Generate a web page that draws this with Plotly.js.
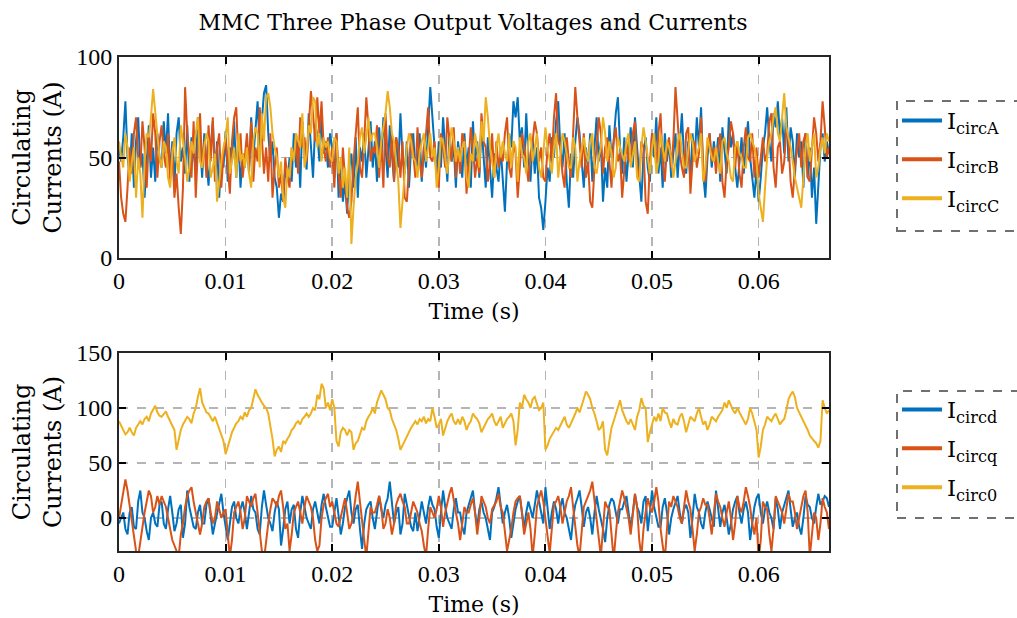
<!DOCTYPE html>
<html>
<head>
<meta charset="utf-8">
<script src="https://cdn.plot.ly/plotly-3.0.1.min.js"></script>
<style>html,body{margin:0;padding:0;background:#fff;}#chart{width:1017px;height:618px;}</style>
</head>
<body>
<div id="chart"></div>
<script>
// sample period of the recorded signals (s)
const sampleStep = 0.0002;

// Top panel: phase circulating currents (A)
const iCircA = [
55,48,60,78,50,42,62,35,58,70,45,52,30,48,66,40,55,38,62,50,
45,68,52,72,40,58,35,62,70,48,55,42,66,38,60,52,44,70,58,40,
62,48,36,55,68,42,58,30,50,45,63,38,55,48,68,40,60,35,52,45,
58,42,70,50,62,78,55,68,82,86,62,48,58,40,35,20,32,28,45,38,
50,38,62,45,58,35,68,50,44,72,55,40,66,62,48,70,52,58,45,62,
55,40,62,30,48,28,38,22,45,52,35,60,30,55,48,62,40,52,68,45,
58,38,65,48,70,55,40,66,52,38,60,45,72,50,42,58,35,55,62,42,
48,62,38,55,45,68,85,70,52,40,58,45,70,52,38,62,48,56,35,58,
50,40,62,45,55,35,68,48,58,40,66,50,35,60,42,30,52,45,38,55,
40,23,48,62,55,78,70,80,58,65,45,72,50,38,60,42,55,30,25,14,
28,45,38,60,50,68,78,55,45,62,38,25,52,40,58,70,62,48,35,55,
45,62,38,55,70,48,58,28,45,35,66,50,58,72,80,55,42,60,38,52,
65,45,70,55,40,28,52,60,45,38,62,50,70,42,55,35,62,48,58,40,
52,62,40,55,72,50,42,58,38,62,48,70,55,75,42,30,50,62,45,58,
48,60,38,65,52,42,70,55,62,45,35,50,60,42,55,68,50,40,30,45,
28,40,55,62,75,58,48,72,65,78,60,70,52,75,48,65,58,40,62,50,
58,35,62,40,55,30,45,17,38,55,62,48,58,52];
const iCircB = [
48,30,22,18,35,55,42,62,70,50,45,68,55,35,60,48,72,62,40,58,
66,52,45,62,38,55,30,42,25,12,35,85,62,50,40,68,30,55,72,45,
58,40,66,48,70,38,55,62,35,52,60,45,32,58,70,75,48,62,40,50,
62,45,68,38,55,48,75,60,42,55,38,62,30,45,55,35,42,28,50,40,
35,55,48,62,42,70,55,60,48,65,83,72,58,80,62,78,55,48,60,45,
55,35,62,42,30,55,38,25,20,28,48,62,75,45,40,58,80,65,48,55,
52,66,40,58,35,72,50,45,62,38,60,55,40,58,30,28,45,62,52,40,
65,48,40,55,62,75,50,48,58,42,35,62,55,45,70,58,48,65,40,55,
42,62,58,32,48,65,55,40,50,42,72,58,55,38,48,62,40,58,45,52,
48,62,70,45,40,58,52,30,45,62,55,45,38,52,58,68,62,48,55,40,
38,55,62,48,70,82,58,55,42,35,60,48,40,62,85,70,55,45,62,40,
48,28,25,45,55,70,62,42,55,60,48,35,58,65,48,52,30,42,58,48,
50,62,68,45,40,58,55,28,22,48,62,58,45,62,72,48,38,55,60,45,
58,85,70,52,45,40,62,65,32,48,58,45,52,70,45,38,55,62,48,55,
42,55,62,38,30,48,55,68,62,45,58,42,35,55,65,50,48,62,40,55,
40,52,60,48,52,68,72,45,35,55,58,42,48,65,58,38,30,45,55,62,
45,58,62,40,38,55,70,62,48,58,78,65,50,55];
const iCircC = [
58,50,45,62,55,38,48,55,30,50,42,20,48,62,60,70,84,72,62,50,
45,58,55,40,35,52,60,48,42,66,58,50,38,45,58,52,62,70,48,45,
55,62,58,40,45,52,28,40,48,55,60,70,42,48,55,40,62,48,52,45,
55,42,35,58,65,62,45,72,58,80,82,75,62,55,50,40,48,30,25,45,
40,55,48,62,58,55,72,45,52,66,62,80,78,55,62,48,60,55,58,50,
48,60,58,42,50,35,45,30,55,7,25,40,48,60,65,52,60,70,58,62,
62,55,45,58,65,72,83,75,62,58,48,38,15,30,45,55,62,58,50,48,
40,52,58,62,48,55,62,50,55,35,45,60,58,50,42,55,65,58,48,55,
48,55,58,40,35,52,48,62,55,45,68,58,80,70,55,48,40,55,62,50,
58,52,48,62,45,58,55,38,60,52,50,42,58,62,48,55,62,45,40,52,
65,55,48,42,55,62,40,50,62,58,52,45,45,60,55,38,48,55,60,52,
48,58,62,45,42,50,55,70,62,48,58,52,40,45,60,55,52,48,58,62,
45,52,58,40,38,55,65,58,50,42,55,62,42,48,62,55,48,58,55,50,
40,48,58,62,52,45,45,55,62,58,48,52,55,62,38,45,60,55,50,48,
55,48,42,58,60,52,48,40,38,55,58,52,50,45,45,60,62,58,55,48,
32,25,18,35,50,58,62,70,75,62,58,70,82,65,60,55,48,40,35,30,
25,40,55,62,48,55,62,40,45,55,60,52,62,58];

// Bottom panel: dq0 circulating currents (A)
const iCircD = [
-5,0,5,-10,-15,5,10,-8,-10,15,25,5,0,-12,-20,0,5,-5,-8,12,
15,-5,-10,8,20,5,-12,-5,8,12,-18,-5,25,10,0,-8,-10,5,12,-5,
-5,12,18,0,-15,-5,5,15,22,5,-8,-20,-5,10,15,0,-5,8,15,5,
-10,5,20,8,5,-10,-15,10,25,12,0,-5,-12,5,15,8,-25,-10,8,15,
-5,8,12,-10,-18,5,20,10,0,-5,-10,8,15,5,-5,12,22,10,2,-8,
-8,5,18,2,-15,-5,10,18,25,5,-5,8,12,-10,-28,-5,8,12,15,0,
-10,5,20,8,0,12,18,33,10,-5,5,10,-15,-5,22,12,2,-8,-12,5,
-12,0,15,5,-5,10,20,12,8,-8,-18,5,25,10,0,-5,-10,8,18,5,
5,-8,-15,5,12,20,25,5,-8,8,15,5,0,-10,-20,5,10,18,28,12,
-5,5,12,0,-18,-5,8,15,20,5,-10,5,15,8,0,12,25,15,5,-5,
28,10,-10,5,15,8,-5,10,18,5,0,-10,-20,0,12,18,25,10,-8,5,
10,0,-15,5,20,8,0,-10,-22,0,12,18,15,5,-5,8,8,15,20,5,
-10,5,22,10,5,-5,15,20,-12,5,25,10,0,-8,-8,10,18,5,-15,0,
8,15,20,5,-5,8,12,5,-18,0,22,10,5,-5,-10,5,15,8,0,-8,
25,10,-8,5,12,0,-15,-5,8,15,20,5,-5,8,15,5,-20,-5,10,18,
22,5,-5,8,15,5,0,-10,18,8,-10,5,12,20,25,8,-8,0,5,-8,
-15,0,20,12,10,0,-5,10,22,12,15,20,18,10];
const iCircQ = [
0,12,20,35,25,10,-5,-15,-30,-35,-20,-10,5,15,25,20,5,10,20,12,
20,15,10,0,-10,-20,-25,-30,-35,-15,-5,10,20,25,28,15,5,-5,-15,-5,
10,15,18,5,-5,0,15,8,0,5,8,-15,-35,-20,5,10,15,5,-10,0,
20,15,10,18,22,5,-15,-30,-38,-20,-5,8,18,15,10,20,25,10,-10,-5,
-30,-15,5,10,15,5,-5,10,20,15,10,0,-20,-30,-25,0,12,18,22,10,
15,5,-5,-8,0,10,18,5,-10,-5,5,20,33,15,-5,-20,-35,-10,10,5,
5,12,20,10,-10,-5,8,0,-15,-5,12,18,22,15,10,-5,-5,5,15,10,
5,-5,-12,-25,-35,-10,10,5,0,8,20,10,-8,5,15,22,28,15,5,-5,
-20,-5,10,5,5,12,18,5,-15,0,20,15,10,0,-5,8,12,15,22,10,
5,-15,-30,-20,-10,5,15,18,20,5,-15,-5,5,-10,-35,-15,10,18,25,15,
0,-15,-32,-10,12,15,20,10,-5,5,15,20,28,10,-10,-25,-35,-10,10,15,
20,25,33,15,0,-20,-35,-10,15,10,8,-15,-38,-15,5,15,25,18,10,0,
-15,5,22,10,-20,-35,-10,5,18,10,5,15,28,15,-10,-25,-38,-10,15,10,
20,15,10,0,-5,10,25,15,8,-10,-30,-15,5,10,18,12,12,0,-15,5,
22,15,10,0,-8,5,15,0,-20,-5,20,10,5,15,28,20,10,-5,-15,0,
-38,-20,15,10,8,-15,-30,-10,20,15,10,5,-5,8,22,15,15,5,-10,0,
12,20,25,5,-35,-15,5,0,-20,-5,18,10,5,-10];
const iCirc0 = [
88,84,80,76,78,82,78,75,82,85,88,85,90,92,88,95,98,102,96,93,
92,95,97,92,88,85,80,62,72,80,85,88,92,90,86,95,100,110,118,105,
100,96,95,92,88,92,86,80,75,70,58,65,72,78,82,86,88,92,90,96,
92,98,100,108,117,112,108,105,102,100,95,85,72,56,62,65,60,70,68,72,
75,80,82,86,88,85,90,92,95,92,95,100,98,112,108,122,118,100,105,98,
108,100,70,65,78,82,80,75,80,78,62,68,70,76,82,80,88,92,95,100,
95,105,110,116,112,108,100,98,90,85,80,72,62,66,70,75,78,82,85,88,
85,90,88,92,86,90,88,100,92,82,85,90,75,82,88,92,95,88,85,90,
85,92,88,80,85,88,95,92,90,86,78,82,86,90,92,95,88,84,88,92,
82,86,90,92,95,88,66,80,105,100,112,108,105,100,108,110,104,98,100,105,
62,66,72,75,78,82,80,84,88,92,85,82,86,90,95,100,96,102,108,115,
112,108,100,95,88,80,82,88,62,57,70,82,88,95,100,107,98,92,88,85,
90,85,80,92,98,109,102,100,69,78,85,92,88,95,88,100,96,95,88,82,
90,86,85,92,95,88,78,85,92,90,88,95,100,92,85,88,80,85,92,90,
88,92,95,98,105,100,107,102,98,95,100,96,92,88,85,90,100,95,88,80,
55,65,80,85,92,90,88,92,95,90,85,88,90,98,108,112,115,110,100,96,
92,88,85,80,75,72,70,68,64,70,107,100,95,98];

const topNames = ['I<sub>circA</sub>','I<sub>circB</sub>','I<sub>circC</sub>'];
const botNames = ['I<sub>circd</sub>','I<sub>circq</sub>','I<sub>circ0</sub>'];
const colors = ['#0072BD','#D95319','#EDB120'];
const xTicks = [0,0.01,0.02,0.03,0.04,0.05,0.06];
const xTickText = ['0','0.01','0.02','0.03','0.04','0.05','0.06'];

const timeOf = arr => arr.map((_, i) => +(i * sampleStep).toFixed(6));

const TICKFONT = 'Liberation Serif, Times New Roman, serif';
const LABFONT = 'DejaVu Serif, serif';
const traces = [];
[iCircA, iCircB, iCircC].forEach((s, k) => {
  traces.push({x: timeOf(s), y: s, type: 'scatter', mode: 'lines', xaxis: 'x', yaxis: 'y',
    line: {color: colors[k], width: 2}, showlegend: false, hoverinfo: 'skip'});
});
[iCircD, iCircQ, iCirc0].forEach((s, k) => {
  traces.push({x: timeOf(s), y: s, type: 'scatter', mode: 'lines', xaxis: 'x2', yaxis: 'y2',
    line: {color: colors[k], width: 2}, showlegend: false, hoverinfo: 'skip'});
});
// legend entries (one group each so the group gap spaces the rows)
topNames.forEach((n, k) => traces.push({x: [null], y: [null], type: 'scatter', mode: 'lines',
  xaxis: 'x', yaxis: 'y', name: n, legend: 'legend', legendgroup: 't' + k,
  line: {color: colors[k], width: 4}}));
botNames.forEach((n, k) => traces.push({x: [null], y: [null], type: 'scatter', mode: 'lines',
  xaxis: 'x2', yaxis: 'y2', name: n, legend: 'legend2', legendgroup: 'b' + k,
  line: {color: colors[k], width: 4}}));

const W = 1017, H = 618;
const px = v => v / W, py = v => 1 - v / H;

const xBase = {
  range: [0, 0.0666], tickvals: xTicks, ticktext: xTickText,
  ticks: 'inside', ticklen: 7, tickwidth: 2, tickcolor: '#000',
  showline: true, linecolor: '#262626', linewidth: 2, mirror: 'ticks',
  showgrid: true, gridcolor: '#b5b5b5', griddash: 'dash', gridwidth: 1.5,
  zeroline: false, tickfont: {family: TICKFONT, size: 24, color: '#000'},
  title: {text: 'Time (s)', font: {family: LABFONT, size: 22, color: '#000'}, standoff: 11}
};
const yBase = {
  ticks: 'inside', ticklen: 7, tickwidth: 2, tickcolor: '#000',
  showline: true, linecolor: '#262626', linewidth: 2, mirror: 'ticks',
  showgrid: true, gridcolor: '#b5b5b5', griddash: 'dash', gridwidth: 1.5,
  zeroline: false, tickfont: {family: TICKFONT, size: 24, color: '#000'},
  title: {text: 'Circulating<br>Currents (A)', font: {family: LABFONT, size: 24, color: '#000'}, standoff: 8}
};

const legBase = {xanchor: 'left', yanchor: 'top', bgcolor: 'rgba(0,0,0,0)', borderwidth: 0,
  font: {family: LABFONT, size: 23, color: '#000'}, itemwidth: 40,
  traceorder: 'grouped', tracegroupgap: 6};

const layout = {
  width: W, height: H, margin: {l: 0, r: 0, t: 0, b: 0},
  paper_bgcolor: '#fff', plot_bgcolor: '#fff',
  title: {text: 'MMC Three Phase Output Voltages and Currents', x: px(473), xanchor: 'center',
    y: py(22), yanchor: 'middle', font: {family: LABFONT, size: 22, color: '#000'}},
  xaxis: Object.assign({}, xBase, {domain: [px(119), px(829)], anchor: 'y'}),
  yaxis: Object.assign({}, yBase, {domain: [py(258), py(57)], range: [0, 100], tickvals: [0, 50, 100], anchor: 'x'}),
  xaxis2: Object.assign({}, xBase, {domain: [px(119), px(829)], anchor: 'y2'}),
  yaxis2: Object.assign({}, yBase, {domain: [py(551), py(353)], range: [-30, 150], tickvals: [0, 50, 100, 150], anchor: 'x2'}),
  legend: Object.assign({}, legBase, {x: px(897), y: py(99)}),
  legend2: Object.assign({}, legBase, {x: px(897), y: py(388)}),
  shapes: [
    {type: 'rect', xref: 'paper', yref: 'paper', x0: px(897), x1: px(1030), y0: py(231), y1: py(101),
      line: {color: '#707070', width: 2, dash: 'dash'}, fillcolor: 'rgba(0,0,0,0)'},
    {type: 'rect', xref: 'paper', yref: 'paper', x0: px(897), x1: px(1030), y0: py(518), y1: py(391),
      line: {color: '#707070', width: 2, dash: 'dash'}, fillcolor: 'rgba(0,0,0,0)'}
  ]
};

Plotly.newPlot('chart', traces, layout, {displayModeBar: false, staticPlot: true});
</script>
</body>
</html>
